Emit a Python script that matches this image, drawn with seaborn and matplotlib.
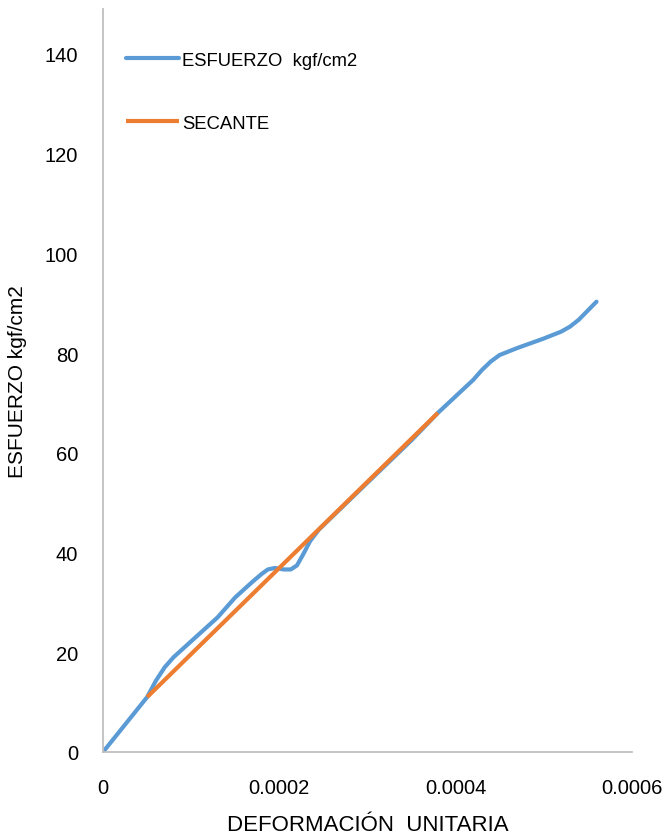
import matplotlib
matplotlib.use("Agg")
import matplotlib.pyplot as plt
import pandas as pd
import seaborn as sns

# strain vs stress curve
deformacion = [0, 0.00005, 0.00006, 0.00007, 0.00008, 0.00010, 0.00013, 0.00015,
               0.00017, 0.00018, 0.000187, 0.000195, 0.000205, 0.000213, 0.00022,
               0.000227, 0.000235, 0.000245, 0.00030, 0.00035, 0.00038, 0.00042,
               0.00043, 0.00044, 0.00045, 0.00047, 0.00050, 0.00052, 0.00053,
               0.00054, 0.00056]
esfuerzo = [0, 11.0, 14.3, 17.0, 19.0, 22.2, 27.0, 31.0,
            34.2, 35.7, 36.6, 36.9, 36.6, 36.6, 37.4,
            39.6, 42.3, 44.6, 54.0, 62.5, 68.0, 74.6,
            76.6, 78.3, 79.6, 81.0, 82.9, 84.3, 85.3,
            86.7, 90.3]

# secant line
sec_x = [0.00005, 0.00038]
sec_y = [11.0, 68.0]

blue = "#5B9BD5"
orange = "#ED7D31"

sns.set_style("white")
plt.rcParams['font.family'] = ['Liberation Sans', 'DejaVu Sans']
plt.rcParams['text.color'] = "#000000"
plt.rcParams['axes.labelcolor'] = "#000000"

df_curve = pd.DataFrame({"x": deformacion, "y": esfuerzo})
df_sec = pd.DataFrame({"x": sec_x, "y": sec_y})

fig = plt.figure(figsize=(6.65, 8.37), dpi=100)
ax = fig.add_axes([0.155, 0.1004, 0.795, 0.8877])

sns.lineplot(data=df_curve, x="x", y="y", ax=ax, color=blue, lw=3,
             sort=False, label="ESFUERZO  kgf/cm2", solid_capstyle="round",
             solid_joinstyle="round")
sns.lineplot(data=df_sec, x="x", y="y", ax=ax, color=orange, lw=3,
             sort=False, label="SECANTE", solid_capstyle="butt")

ax.set_xlim(0, 0.0006)
ax.set_ylim(0, 149)
ax.set_xticks([0, 0.0002, 0.0004, 0.0006])
ax.set_xticklabels(["0", "0.0002", "0.0004", "0.0006"])
ax.set_yticks(range(0, 141, 20))
ax.tick_params(axis="both", labelsize=14.5, length=0, colors="#000000")
ax.tick_params(axis="x", pad=19)
ax.tick_params(axis="y", pad=18)

ax.set_xlabel("DEFORMACIÓN  UNITARIA", fontsize=16, labelpad=12)
ax.set_ylabel("ESFUERZO kgf/cm2", fontsize=15, labelpad=13)

for s in ["top", "right"]:
    ax.spines[s].set_visible(False)
for s in ["left", "bottom"]:
    ax.spines[s].set_color("#bfbfbf")
    ax.spines[s].set_linewidth(1.3)

leg = ax.legend(loc="upper left", bbox_to_anchor=(0.025, 0.955), frameon=False,
                fontsize=13.3, handlelength=2.9, handletextpad=0.15,
                labelspacing=2.5, borderpad=0)
for t in leg.get_texts():
    t.set_color("#000000")

fig.savefig("out.png", dpi=100)
